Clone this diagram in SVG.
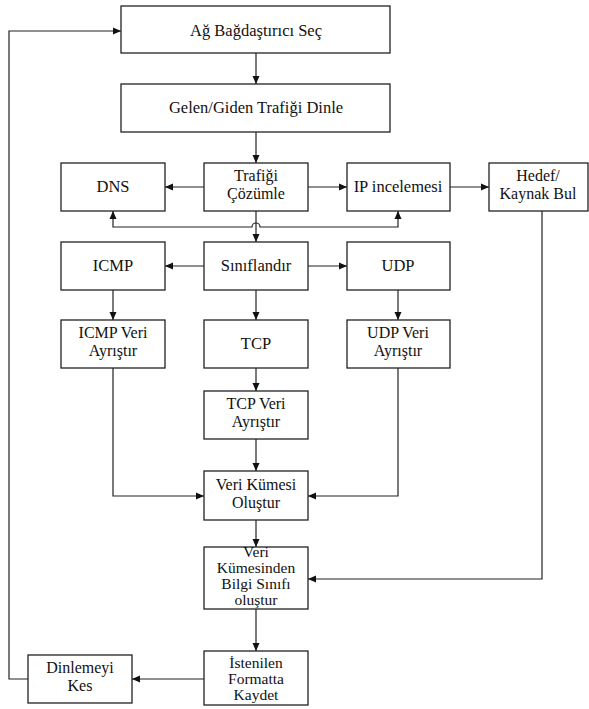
<svg xmlns="http://www.w3.org/2000/svg" width="589" height="709" viewBox="0 0 589 709">
<style>
.box{fill:#fff;stroke:#222;stroke-width:1.3}
.t{font-family:"Liberation Serif","Times New Roman",serif;font-size:16.5px;fill:#111;text-anchor:middle}
.m{font-size:16px}
.s{font-size:15.5px}
.c{fill:none;stroke:#222;stroke-width:1.2}
</style>
<defs>
<marker id="ah" markerUnits="userSpaceOnUse" markerWidth="9" markerHeight="8" refX="8" refY="4" orient="auto-start-reverse">
<path d="M0,0.5 L8,4 L0,7.5 z" fill="#111"/>
</marker>
</defs>
<rect width="589" height="709" fill="#fff"/>
<g id="connectors">
<path class="c" d="M256,53 V84" marker-end="url(#ah)"/>
<path class="c" d="M256,132 V163" marker-end="url(#ah)"/>
<path class="c" d="M204,187 H165" marker-end="url(#ah)"/>
<path class="c" d="M308,187 H347" marker-end="url(#ah)"/>
<path class="c" d="M450,187 H489" marker-end="url(#ah)"/>
<path class="c" d="M256,211 V242" marker-end="url(#ah)"/>
<path class="c" d="M113,211 V227 H252 A4,4 0 0 1 260,227 H398 V211" marker-start="url(#ah)" marker-end="url(#ah)"/>
<path class="c" d="M204,266 H165" marker-end="url(#ah)"/>
<path class="c" d="M308,266 H347" marker-end="url(#ah)"/>
<path class="c" d="M113,290 V320" marker-end="url(#ah)"/>
<path class="c" d="M256,290 V320" marker-end="url(#ah)"/>
<path class="c" d="M398,290 V320" marker-end="url(#ah)"/>
<path class="c" d="M256,368 V391" marker-end="url(#ah)"/>
<path class="c" d="M256,439 V471" marker-end="url(#ah)"/>
<path class="c" d="M113,368 V496 H204" marker-end="url(#ah)"/>
<path class="c" d="M398,368 V496 H308" marker-end="url(#ah)"/>
<path class="c" d="M256,520 V547" marker-end="url(#ah)"/>
<path class="c" d="M542,211 V579 H308" marker-end="url(#ah)"/>
<path class="c" d="M256,609 V651" marker-end="url(#ah)"/>
<path class="c" d="M204,679 H132" marker-end="url(#ah)"/>
<path class="c" d="M28,679 H9 V31 H121" marker-end="url(#ah)"/>
</g>
<g id="n1"><rect class="box" x="121" y="6" width="269" height="47"/><text class="t" x="256" y="36">Ağ Bağdaştırıcı Seç</text></g>
<g id="n2"><rect class="box" x="121" y="84" width="269" height="48"/><text class="t" x="256" y="113">Gelen/Giden Trafiği Dinle</text></g>
<g id="dns"><rect class="box" x="61" y="163" width="104" height="48"/><text class="t" x="113" y="192">DNS</text></g>
<g id="trafik"><rect class="box" x="204" y="163" width="104" height="48"/><text class="t m" x="256" y="181">Trafiği</text><text class="t m" x="256" y="199">Çözümle</text></g>
<g id="ip"><rect class="box" x="347" y="163" width="103" height="48"/><text class="t" x="398" y="192">IP incelemesi</text></g>
<g id="hedef"><rect class="box" x="489" y="163" width="99" height="48"/><text class="t m" x="538" y="181">Hedef/</text><text class="t m" x="538" y="199">Kaynak Bul</text></g>
<g id="icmp"><rect class="box" x="61" y="242" width="104" height="48"/><text class="t" x="113" y="271">ICMP</text></g>
<g id="sinif"><rect class="box" x="204" y="242" width="104" height="48"/><text class="t" x="256" y="271">Sınıflandır</text></g>
<g id="udp"><rect class="box" x="347" y="242" width="103" height="48"/><text class="t" x="398" y="271">UDP</text></g>
<g id="icmpveri"><rect class="box" x="61" y="320" width="104" height="48"/><text class="t m" x="113" y="338">ICMP Veri</text><text class="t m" x="113" y="356">Ayrıştır</text></g>
<g id="tcp"><rect class="box" x="204" y="320" width="104" height="48"/><text class="t" x="256" y="349">TCP</text></g>
<g id="udpveri"><rect class="box" x="347" y="320" width="103" height="48"/><text class="t m" x="398" y="338">UDP Veri</text><text class="t m" x="398" y="356">Ayrıştır</text></g>
<g id="tcpveri"><rect class="box" x="204" y="391" width="104" height="48"/><text class="t m" x="256" y="409">TCP Veri</text><text class="t m" x="256" y="427">Ayrıştır</text></g>
<g id="verikumesi"><rect class="box" x="204" y="471" width="104" height="49"/><text class="t m" x="256" y="490">Veri Kümesi</text><text class="t m" x="256" y="508">Oluştur</text></g>
<g id="bilgi"><rect class="box" x="204" y="547" width="104" height="62"/><text class="t s" x="256" y="557">Veri</text><text class="t s" x="256" y="573">Kümesinden</text><text class="t s" x="256" y="589">Bilgi Sınıfı</text><text class="t s" x="256" y="605">oluştur</text></g>
<g id="kaydet"><rect class="box" x="204" y="651" width="104" height="54"/><text class="t s" x="256" y="668">İstenilen</text><text class="t s" x="256" y="684">Formatta</text><text class="t s" x="256" y="700">Kaydet</text></g>
<g id="kes"><rect class="box" x="28" y="655" width="104" height="48"/><text class="t m" x="80" y="673">Dinlemeyi</text><text class="t m" x="80" y="691">Kes</text></g>
</svg>
